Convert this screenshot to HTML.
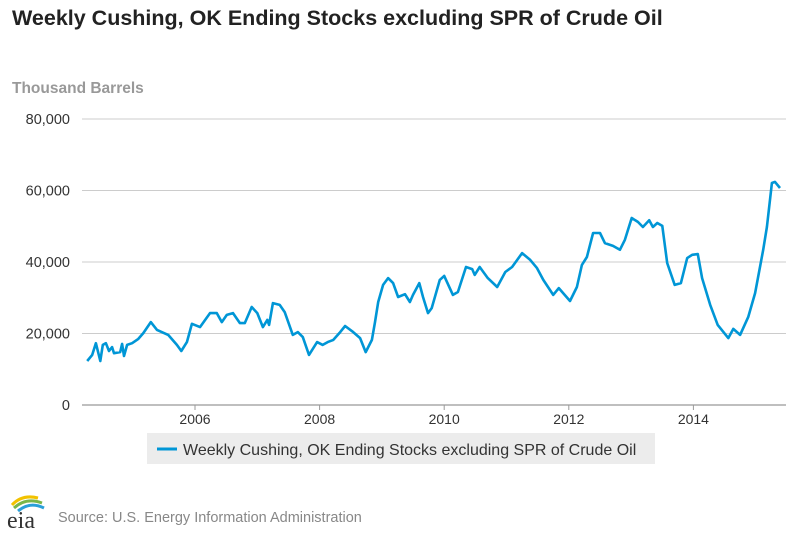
<!DOCTYPE html>
<html><head><meta charset="utf-8">
<style>
body{margin:0;width:800px;height:534px;background:#fff;font-family:"Liberation Sans",Arial,sans-serif;overflow:hidden}
svg{position:absolute;left:0;top:0}
</style></head>
<body>
<svg id="chart" width="800" height="534">
  <text x="12" y="25" font-size="21.5" font-weight="bold" fill="#222">Weekly Cushing, OK Ending Stocks excluding SPR of Crude Oil</text>
  <text x="12" y="93" font-size="15.5" font-weight="bold" fill="#999">Thousand Barrels</text>
  <g id="grid"></g>
  <g id="yticks"></g>
  <g id="xticks"></g>
  <path id="line" fill="none" stroke="#0096d6" stroke-width="2.6" stroke-linejoin="round"></path>
  <g>
    <rect x="147" y="433" width="508" height="31" fill="#ececec"></rect>
    <line x1="157" y1="449" x2="177" y2="449" stroke="#0096d6" stroke-width="3"></line>
    <text x="183" y="455" font-size="16" fill="#333">Weekly Cushing, OK Ending Stocks excluding SPR of Crude Oil</text>
  </g>
  <g>
    <path d="M12 505 Q22 494 38 498" stroke="#f2c200" stroke-width="3" fill="none"/>
    <path d="M14 508 Q26 497 42 503" stroke="#7ab648" stroke-width="3" fill="none"/>
    <path d="M18 511 Q30 501 44 508" stroke="#2a9fd8" stroke-width="3" fill="none"/>
    <text x="7" y="528" font-family="Liberation Serif,serif" font-size="24" fill="#333">eia</text>
  </g>
  <text x="58" y="522" font-size="14.5" fill="#888">Source: U.S. Energy Information Administration</text>
</svg>
<script>
const yearsX = [2004.27,2004.35,2004.41,2004.48,2004.52,2004.57,2004.62,2004.67,2004.70,2004.80,2004.83,2004.86,2004.91,2004.99,2005.09,2005.17,2005.29,2005.39,2005.57,2005.71,2005.78,2005.87,2005.95,2006.08,2006.24,2006.35,2006.43,2006.51,2006.61,2006.72,2006.80,2006.91,2007.00,2007.09,2007.16,2007.19,2007.25,2007.36,2007.44,2007.57,2007.65,2007.73,2007.83,2007.96,2008.05,2008.13,2008.22,2008.33,2008.41,2008.54,2008.65,2008.74,2008.84,2008.89,2008.94,2009.02,2009.10,2009.18,2009.26,2009.37,2009.45,2009.50,2009.60,2009.66,2009.74,2009.80,2009.85,2009.93,2010.00,2010.14,2010.22,2010.35,2010.45,2010.49,2010.57,2010.70,2010.85,2010.98,2011.09,2011.25,2011.38,2011.49,2011.59,2011.75,2011.84,2012.02,2012.13,2012.21,2012.29,2012.39,2012.50,2012.58,2012.71,2012.82,2012.90,2013.01,2013.11,2013.19,2013.29,2013.35,2013.42,2013.50,2013.58,2013.70,2013.80,2013.90,2013.98,2014.07,2014.14,2014.27,2014.39,2014.56,2014.64,2014.75,2014.88,2014.99,2015.12,2015.18,2015.26,2015.31,2015.39];
const stocks = [12.3,14.0,17.3,12.3,16.8,17.3,15.1,16.2,14.5,14.8,17.1,13.7,16.8,17.3,18.5,20.1,23.2,21.0,19.6,16.8,15.1,17.6,22.7,21.8,25.7,25.7,23.2,25.2,25.7,22.9,22.9,27.4,25.7,21.8,23.8,22.4,28.5,28.0,26.0,19.6,20.4,19.0,14.0,17.6,16.8,17.6,18.2,20.4,22.1,20.4,18.7,14.8,18.2,23.2,28.8,33.6,35.5,34.1,30.2,31.0,28.8,30.8,34.1,30.2,25.7,27.1,30.2,35.0,36.1,30.8,31.6,38.6,38.0,36.4,38.6,35.5,33.0,37.2,38.6,42.5,40.6,38.3,35.0,30.8,32.7,29.1,33.0,39.2,41.4,48.1,48.1,45.3,44.5,43.4,46.2,52.3,51.2,49.8,51.7,49.8,50.9,50.1,39.7,33.6,34.1,41.1,42.0,42.2,35.5,28.0,22.4,18.7,21.3,19.6,24.6,31.3,43.4,49.8,62.1,62.4,60.7];
const yTickVals = [0,20,40,60,80];
const yTickLabels = ["0","20,000","40,000","60,000","80,000"];
const xTickYears = [2006,2008,2010,2012,2014];

const NS="http://www.w3.org/2000/svg";
const sx = y => 195 + (y-2006)*62.3;
const sy = v => 405 - v/80*286;
const grid=document.getElementById('grid'), yt=document.getElementById('yticks'), xt=document.getElementById('xticks');
yTickVals.forEach((v,i)=>{
  const l=document.createElementNS(NS,'line');
  l.setAttribute('x1',82);l.setAttribute('x2',786);
  l.setAttribute('y1',sy(v));l.setAttribute('y2',sy(v));
  l.setAttribute('stroke',v===0?'#999':'#ccc');l.setAttribute('stroke-width',v===0?1.2:1);
  
  
  grid.appendChild(l);
  const t=document.createElementNS(NS,'text');
  t.setAttribute('x',70);t.setAttribute('y',sy(v)+5);
  t.setAttribute('text-anchor','end');t.setAttribute('font-size','14.5');t.setAttribute('fill','#333');
  t.textContent=yTickLabels[i];
  
  
  yt.appendChild(t);
});
xTickYears.forEach(y=>{
  const l=document.createElementNS(NS,'line');
  l.setAttribute('x1',sx(y));l.setAttribute('x2',sx(y));l.setAttribute('y1',405);l.setAttribute('y2',410);
  l.setAttribute('stroke','#999');
  
  
  xt.appendChild(l);
  const t=document.createElementNS(NS,'text');
  t.setAttribute('x',sx(y));t.setAttribute('y',424);
  t.setAttribute('text-anchor','middle');t.setAttribute('font-size','14');t.setAttribute('fill','#333');
  t.textContent=y;
  
  
  xt.appendChild(t);
});
document.getElementById('line').setAttribute('d', yearsX.map((y,i)=>(i?'L':'M')+sx(y).toFixed(1)+' '+sy(stocks[i]).toFixed(1)).join(' '));
</script>
</body></html>
